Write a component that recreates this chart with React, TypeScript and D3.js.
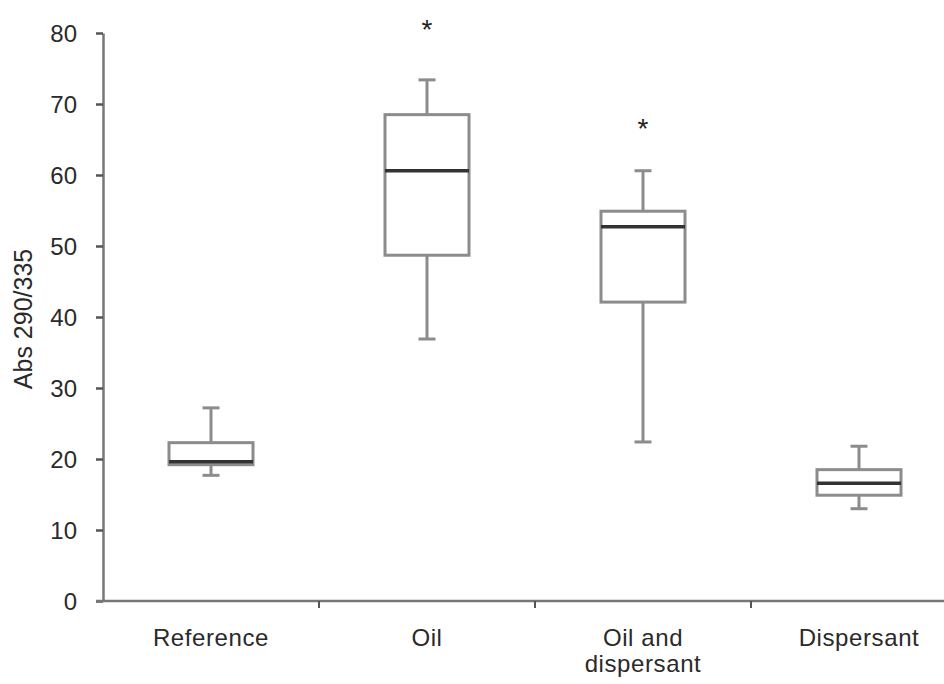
import React, { useEffect, useRef } from 'react';
import * as d3 from 'd3';

// box plot values
const categories = ['Reference', 'Oil', 'Oil and dispersant', 'Dispersant'];
const categoryLines = [['Reference'], ['Oil'], ['Oil and', 'dispersant'], ['Dispersant']];
const whiskerLow = [17.7, 36.9, 22.4, 13.0];
const q1 = [19.2, 48.7, 42.1, 14.9];
const median = [19.6, 60.6, 52.7, 16.6];
const q3 = [22.3, 68.5, 54.9, 18.5];
const whiskerHigh = [27.2, 73.4, 60.6, 21.8];
// significance markers and the level they sit at
const significance = ['', '*', '*', ''];
const starLevel = [0, 81.2, 67.3, 0];
const yTicks = [0, 10, 20, 30, 40, 50, 60, 70, 80];

const App: React.FC = () => {
    const ref = useRef<SVGSVGElement>(null);

    const width = 944;
    const height = 684;

    useEffect(() => {
        drawChart();
        // eslint-disable-next-line
    }, []);

    const drawChart = () => {
        const svg = d3.select(ref.current);
        svg.selectAll('*').remove();

        const x = d3.scaleBand<string>()
            .domain(categories)
            .range([103, 967])
            .paddingInner(0);

        const y = d3.scaleLinear()
            .domain([0, 80])
            .range([601, 33]);

        const axisColor = '#777';
        const boxColor = '#8c8c8c';
        const textColor = '#2a2a2a';
        const font = '"Liberation Sans", Arial, sans-serif';

        // y axis
        const yAxis = svg.append('g')
            .attr('transform', `translate(${x.range()[0]},0)`)
            .call(d3.axisLeft(y).tickValues(yTicks).tickSize(7).tickSizeOuter(0).tickPadding(19));
        yAxis.select('.domain').attr('stroke', axisColor).attr('stroke-width', 2.5);
        yAxis.selectAll('.tick line').attr('stroke', '#555').attr('stroke-width', 2.5);
        yAxis.selectAll('.tick text')
            .attr('fill', textColor)
            .attr('font-family', font)
            .attr('font-size', 24)
            .attr('dy', '0.36em');

        // x axis line + ticks between categories
        const xAxis = svg.append('g');
        xAxis.append('line')
            .attr('x1', x.range()[0] - 7)
            .attr('x2', x.range()[1])
            .attr('y1', y(0))
            .attr('y2', y(0))
            .attr('stroke', axisColor)
            .attr('stroke-width', 2.5);
        xAxis.selectAll('.xtick')
            .data(categories.slice(1))
            .enter()
            .append('line')
            .attr('class', 'xtick')
            .attr('x1', d => x(d) as number)
            .attr('x2', d => x(d) as number)
            .attr('y1', y(0))
            .attr('y2', y(0) + 7)
            .attr('stroke', '#555')
            .attr('stroke-width', 2);

        const labels = xAxis.selectAll('.xlabel')
            .data(categories)
            .enter()
            .append('text')
            .attr('class', 'xlabel')
            .attr('text-anchor', 'middle')
            .attr('font-family', font)
            .attr('font-size', 24)
            .attr('letter-spacing', 0.6)
            .attr('fill', textColor);
        labels.each(function (d, i) {
            const cx = (x(d) as number) + x.bandwidth() / 2;
            categoryLines[i].forEach((line, j) => {
                d3.select(this).append('tspan')
                    .attr('x', cx)
                    .attr('y', 646 + j * 26)
                    .text(line);
            });
        });

        // y label
        svg.append('text')
            .attr('transform', `translate(32,319) rotate(-90)`)
            .attr('text-anchor', 'middle')
            .attr('font-family', font)
            .attr('font-size', 25)
            .attr('fill', textColor)
            .text('Abs 290/335');

        // boxes
        const boxW = 84;
        const capW = 17;
        const groups = svg.selectAll('.box')
            .data(categories)
            .enter()
            .append('g')
            .attr('class', 'box')
            .attr('transform', d => `translate(${(x(d) as number) + x.bandwidth() / 2},0)`);

        // whiskers
        groups.append('line')
            .attr('y1', (d, i) => y(whiskerHigh[i]))
            .attr('y2', (d, i) => y(q3[i]))
            .attr('stroke', boxColor).attr('stroke-width', 3);
        groups.append('line')
            .attr('y1', (d, i) => y(whiskerLow[i]))
            .attr('y2', (d, i) => y(q1[i]))
            .attr('stroke', boxColor).attr('stroke-width', 3);
        groups.append('line')
            .attr('x1', -capW / 2).attr('x2', capW / 2)
            .attr('y1', (d, i) => y(whiskerHigh[i]))
            .attr('y2', (d, i) => y(whiskerHigh[i]))
            .attr('stroke', boxColor).attr('stroke-width', 3);
        groups.append('line')
            .attr('x1', -capW / 2).attr('x2', capW / 2)
            .attr('y1', (d, i) => y(whiskerLow[i]))
            .attr('y2', (d, i) => y(whiskerLow[i]))
            .attr('stroke', boxColor).attr('stroke-width', 3);

        groups.append('rect')
            .attr('x', -boxW / 2)
            .attr('width', boxW)
            .attr('y', (d, i) => y(q3[i]))
            .attr('height', (d, i) => y(q1[i]) - y(q3[i]))
            .attr('fill', 'white')
            .attr('stroke', boxColor)
            .attr('stroke-width', 3);

        groups.append('line')
            .attr('x1', -boxW / 2).attr('x2', boxW / 2)
            .attr('y1', (d, i) => y(median[i]))
            .attr('y2', (d, i) => y(median[i]))
            .attr('stroke', '#333')
            .attr('stroke-width', 3.5);

        // significance stars (baseline ~15px under the glyph centre)
        groups.append('text')
            .attr('text-anchor', 'middle')
            .attr('font-family', font)
            .attr('font-size', 28)
            .attr('fill', '#222')
            .attr('y', (d, i) => y(starLevel[i]) + 15)
            .text((d, i) => significance[i]);
    };

    return <svg ref={ref} width={width} height={height}
        style={{ position: 'absolute', left: 0, top: 0, background: 'white' }}></svg>;
};

export default App;
